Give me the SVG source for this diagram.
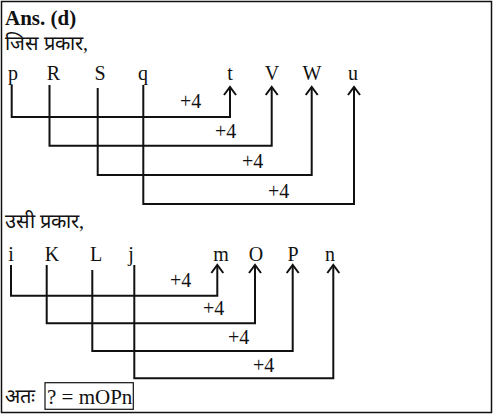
<svg xmlns="http://www.w3.org/2000/svg" width="497" height="415" viewBox="0 0 497 415">
<style>
text{font-family:"Liberation Serif","Times New Roman",serif;font-size:20px;fill:#111}
.b{font-weight:bold;font-size:21px}
.l{text-anchor:middle}
.a{font-size:21px}
.c{fill:none;stroke:#111;stroke-width:2;marker-end:url(#ah)}
</style>
<defs>
<marker id="ah" markerUnits="userSpaceOnUse" markerWidth="16" markerHeight="16" viewBox="-10 -8 12 16" refX="0" refY="0" orient="auto">
<path d="M-8,-6 L0,0 L-8,6" fill="none" stroke="#111" stroke-width="2"/>
</marker>
</defs>
<rect x="1.5" y="1.5" width="490" height="411" fill="#fff" stroke="#111" stroke-width="1.5"/>
<g id="header">
<text class="b" x="5" y="25">Ans. (d)</text>
<text x="5" y="50">जिस प्रकार,</text>
</g>
<g id="top-letters">
<text class="l" x="13" y="79.5">p</text>
<text class="l" x="53.5" y="79.5">R</text>
<text class="l" x="100" y="79.5">S</text>
<text class="l" x="143" y="79.5">q</text>
<text class="l" x="230" y="79.5">t</text>
<text class="l" x="272" y="79.5">V</text>
<text class="l" x="312" y="79.5">W</text>
<text class="l" x="353" y="79.5">u</text>
</g>
<g id="top-connectors">
<path class="c" d="M11.7,85 V117 H230 V87"/>
<path class="c" d="M49.5,85 V145.7 H271.7 V87"/>
<path class="c" d="M97.7,88 V175 H311.7 V87"/>
<path class="c" d="M143.3,85 V204 H354 V87"/>
<text x="180" y="108">+4</text>
<text x="215" y="138">+4</text>
<text x="242" y="168">+4</text>
<text x="268" y="198">+4</text>
</g>
<g id="middle">
<text x="5" y="228">उसी प्रकार,</text>
</g>
<g id="bottom-letters">
<text class="l" x="11" y="260.5">i</text>
<text class="l" x="52" y="260.5">K</text>
<text class="l" x="96" y="260.5">L</text>
<text class="l" x="131" y="260.5">j</text>
<text class="l" x="221" y="260.5">m</text>
<text class="l" x="256" y="260.5">O</text>
<text class="l" x="293" y="260.5">P</text>
<text class="l" x="330" y="260.5">n</text>
</g>
<g id="bottom-connectors">
<path class="c" d="M11,265 V295.7 H217.3 V265"/>
<path class="c" d="M46.7,265 V323.3 H255 V265"/>
<path class="c" d="M92.3,270 V351 H292.7 V265"/>
<path class="c" d="M134.3,265 V378.3 H333.3 V265"/>
<text x="170" y="287">+4</text>
<text x="203" y="315">+4</text>
<text x="228" y="344">+4</text>
<text x="253" y="372">+4</text>
</g>
<g id="answer">
<text x="5" y="403">अतः</text>
<rect x="45" y="382.7" width="88.3" height="26.6" fill="none" stroke="#111" stroke-width="1.2"/>
<text class="a" x="47" y="404">? = mOPn</text>
</g>
</svg>
